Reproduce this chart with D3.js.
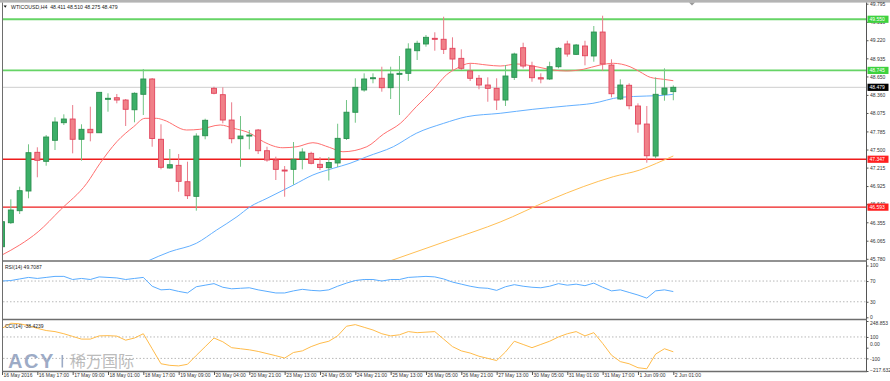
<!DOCTYPE html>
<html>
<head>
<meta charset="utf-8">
<script src="https://cdnjs.cloudflare.com/ajax/libs/d3/7.8.5/d3.min.js"></script>
<style>
  body { margin: 0; background: #fff; }
  text { font-family: "Liberation Sans", Arial, sans-serif; }
</style>
</head>
<body>
<div id="chart"></div>
<script>
// WTICOUSD H4 - velas, medias, RSI(14) y CCI(14)

var timeLabels = ["16 May 2016", "16 May 17:00", "17 May 09:00", "18 May 01:00", "18 May 17:00",
  "19 May 09:00", "20 May 04:00", "20 May 21:00", "23 May 13:00", "24 May 05:00", "24 May 21:00",
  "25 May 13:00", "26 May 05:00", "26 May 21:00", "27 May 13:00", "30 May 05:00", "31 May 01:00",
  "31 May 17:00", "1 Jun 09:00", "2 Jun 01:00"];

var opens = [45.970, 46.348, 46.537, 46.847, 47.456, 47.314, 47.645, 47.922, 47.980, 47.661,
  47.818, 47.764, 48.290, 48.315, 48.279, 48.126, 48.369, 48.610, 47.661, 47.209,
  47.251, 46.993, 46.763, 47.717, 48.463, 48.363, 47.964, 47.670, 47.712, 47.807,
  47.481, 47.335, 47.177, 47.188, 47.346, 47.440, 47.267, 47.214, 47.288, 47.673,
  48.086, 48.437, 48.614, 48.621, 48.473, 48.684, 48.699, 49.055, 49.161, 49.250,
  49.235, 49.093, 48.935, 48.736, 48.621, 48.515, 48.463, 48.279, 48.636, 49.102,
  48.814, 48.630, 48.610, 48.803, 49.161, 48.998, 49.129, 48.972, 49.349, 48.830,
  48.295, 48.511, 48.185, 47.901, 47.398, 48.369, 48.411];
var highs = [46.390, 46.716, 46.915, 47.582, 47.535, 47.728, 48.007, 48.054, 48.200, 47.897,
  48.174, 48.405, 48.385, 48.374, 48.295, 48.400, 48.767, 48.625, 47.897, 47.508,
  47.429, 47.308, 47.755, 47.985, 48.488, 48.479, 48.243, 48.027, 47.807, 47.823,
  47.544, 47.387, 47.240, 47.618, 47.519, 47.465, 47.382, 47.382, 47.906, 48.279,
  48.621, 48.699, 48.699, 48.803, 48.803, 48.972, 49.172, 49.212, 49.302, 49.345,
  49.590, 49.266, 49.077, 48.857, 48.673, 48.636, 48.621, 48.830, 49.024, 49.181,
  48.882, 48.699, 48.882, 49.113, 49.212, 49.161, 49.212, 49.444, 49.606, 48.920,
  48.605, 48.542, 48.227, 48.185, 48.636, 48.778, 48.510];
var lows = [45.855, 46.328, 46.485, 46.732, 47.063, 47.245, 47.492, 47.886, 47.440, 47.324,
  47.629, 47.760, 48.095, 48.227, 47.870, 47.928, 48.043, 47.544, 47.188, 47.198,
  46.836, 46.721, 46.537, 47.661, 48.369, 47.912, 47.598, 47.229, 47.503, 47.429,
  47.308, 47.020, 46.757, 46.946, 47.188, 47.267, 47.177, 47.012, 47.225, 47.650,
  47.922, 48.410, 48.542, 48.410, 48.295, 48.043, 48.578, 48.909, 49.118, 49.055,
  49.003, 48.736, 48.751, 48.578, 48.448, 48.252, 48.122, 48.185, 48.594, 48.778,
  48.567, 48.542, 48.594, 48.778, 48.961, 48.987, 48.825, 48.882, 48.740, 48.322,
  48.279, 48.133, 47.764, 47.292, 47.362, 48.268, 48.275];
var closes = [46.364, 46.548, 46.852, 47.450, 47.330, 47.697, 47.933, 47.980, 47.661, 47.818,
  47.764, 48.400, 48.306, 48.279, 48.133, 48.385, 48.610, 47.673, 47.220, 47.261,
  46.999, 46.773, 47.712, 47.960, 48.385, 47.964, 47.670, 47.712, 47.728, 47.481,
  47.335, 47.188, 47.162, 47.346, 47.461, 47.283, 47.217, 47.295, 47.676, 48.087,
  48.479, 48.610, 48.630, 48.473, 48.688, 48.699, 49.082, 49.172, 49.266, 49.235,
  49.077, 48.924, 48.778, 48.621, 48.515, 48.463, 48.279, 48.657, 49.003, 48.814,
  48.630, 48.610, 48.803, 49.093, 49.003, 49.145, 48.976, 49.349, 48.846, 48.378,
  48.515, 48.189, 47.901, 47.402, 48.369, 48.468, 48.479];

// medias moviles: [barra, precio]
var maRed = [[0, 45.840], [2, 45.997], [4.1, 46.206], [6.6, 46.548], [9.6, 46.968], [11.1, 47.283],
  [13, 47.623], [14.9, 47.859], [16.2, 47.991], [17.5, 47.991], [18.3, 47.964], [20.9, 47.807],
  [22.4, 47.818], [24.7, 47.886], [26.2, 47.834], [28.1, 47.755], [29.6, 47.623], [31.8, 47.528],
  [33.4, 47.544], [35.2, 47.607], [37.1, 47.532], [38.6, 47.465], [41.3, 47.544], [43.2, 47.744],
  [45.1, 47.912], [46.9, 48.174], [48.8, 48.437], [50.3, 48.673], [51.5, 48.778], [53, 48.857],
  [54.9, 48.830], [56.4, 48.814], [58.3, 48.846], [60.1, 48.814], [62.4, 48.751], [63.9, 48.736],
  [65.8, 48.762], [67.7, 48.830], [69.2, 48.857], [71.1, 48.803], [72.2, 48.725], [73.4, 48.636],
  [74.9, 48.605], [76, 48.583]];
var maBlue = [[16.5, 45.745], [19, 45.891], [22, 46.024], [24.3, 46.233], [26.6, 46.442],
  [28.1, 46.600], [30, 46.732], [33, 46.941], [35.2, 47.099], [37.5, 47.204], [39.4, 47.283],
  [41.3, 47.387], [44.3, 47.544], [46.9, 47.755], [50, 47.912], [52.6, 48.016], [56.4, 48.070],
  [60.1, 48.133], [63.9, 48.185], [66.9, 48.227], [70, 48.322], [73, 48.342], [74.9, 48.353],
  [76, 48.369]];
var maOrange = [[43.9, 45.745], [50.7, 46.076], [56.4, 46.359], [62, 46.705], [65.8, 46.915],
  [69.2, 47.072], [72.2, 47.177], [74.1, 47.283], [76, 47.398]];

var rsiValues = [70, 71, 74, 77, 75, 77, 79, 79, 73, 75,
  73, 78, 77, 76, 73, 75, 77, 60, 53, 54,
  50, 47, 59, 62, 65, 58, 55, 56, 57, 53,
  50, 47, 47, 51, 54, 52, 51, 53, 60, 66,
  71, 73, 73, 70, 73, 73, 77, 78, 79, 78,
  74, 68, 64, 60, 57, 56, 52, 59, 63, 60,
  58, 57, 60, 65, 62, 64, 61, 66, 58, 51,
  53, 48, 43, 37, 51, 53, 49.7087];
var cciValues = [180, 228, 223, 205, 180, 160, 150, 130, 105, 80,
  80, 110, 112, 108, 70, 90, 130, -10, -150, -165,
  -170, -155, -72, 9, 90, 55, 0, -10, -20, -35,
  -55, -75, -97, -45, -30, 10, 40, 60, 110, 200,
  215, 190, 165, 130, 110, 120, 150, 140, 145, 150,
  80, 10, -30, -50, -80, -100, -120, -40, 60, 30,
  0, 30, 60, 100, 130, 150, 110, 140, 40, -70,
  -130, -150, -187, -197, -60, -10, -38.4239];

var priceTicks = [49.795, 49.510, 49.220, 48.935, 48.650, 48.360, 48.075, 47.785, 47.500,
  47.215, 46.925, 46.640, 46.355, 46.065, 45.780];
var rsiTicks = [100, 70, 30, 0];
var rsiLevels = [70, 30];
var cciTicks = [248.853, 100, 0, -100, -217.632];
var cciLevels = [100, -100];
var greenLevels = [49.550, 48.745];
var redLevels = [47.347, 46.593];
var lastPrice = 48.479;
var header = "WTICOUSD,H4  48.411 48.510 48.275 48.479";

var width = 890;
var height = 381;
var axisX = 866;
var fs = 5.0;

var svg = d3.select('#chart')
  .append('svg')
  .attr('width', width)
  .attr('height', height);

//Escalas
var x = d3.scaleLinear().domain([0, 76]).range([2, 673.3]);
var y = d3.scaleLinear().domain([45.780, 49.795]).range([258.8, 3.7]);
var yRsi = d3.scaleLinear().domain([0, 100]).range([317.3, 265.5]);
var yCci = d3.scaleLinear().domain([-217.632, 248.853]).range([371, 321]);

//Clips de cada panel
var defs = svg.append('defs');
[['clipMain', 3, 260], ['clipRsi', 262, 318.5], ['clipCci', 320.5, 371]].forEach(function(c) {
  defs.append('clipPath').attr('id', c[0])
    .append('rect')
    .attr('x', 3).attr('y', c[1])
    .attr('width', axisX - 3).attr('height', c[2] - c[1]);
});

var main = svg.append('g').attr('clip-path', 'url(#clipMain)');

//Niveles horizontales
main.append('line')
  .attr('x1', 3).attr('x2', axisX)
  .attr('y1', y(lastPrice)).attr('y2', y(lastPrice))
  .attr('stroke', '#cfcfcf').attr('stroke-width', 1);

main.selectAll('line.green')
  .data(greenLevels)
  .enter()
  .append('line')
  .attr('x1', 3).attr('x2', axisX)
  .attr('y1', d => y(d)).attr('y2', d => y(d))
  .attr('stroke', '#66d466').attr('stroke-width', 1.8);

main.selectAll('line.red')
  .data(redLevels)
  .enter()
  .append('line')
  .attr('x1', 3).attr('x2', axisX)
  .attr('y1', d => y(d)).attr('y2', d => y(d))
  .attr('stroke', '#ee1c1c').attr('stroke-width', 1.4);

//Medias moviles
var maLine = d3.line()
  .x(d => x(d[0]))
  .y(d => y(d[1]))
  .curve(d3.curveMonotoneX);

[[maRed, '#ff6f6f'], [maBlue, '#64b0ff'], [maOrange, '#ffbf55']].forEach(function(m) {
  main.append('path')
    .attr('d', maLine(m[0]))
    .attr('fill', 'none')
    .attr('stroke', m[1])
    .attr('stroke-width', 1);
});

//Velas
var bars = d3.range(opens.length);
var up = i => closes[i] >= opens[i];

main.selectAll('line.wick')
  .data(bars)
  .enter()
  .append('line')
  .attr('x1', i => x(i)).attr('x2', i => x(i))
  .attr('y1', i => y(highs[i])).attr('y2', i => y(lows[i]))
  .attr('stroke', i => up(i) ? '#72c485' : '#ea7b8a')
  .attr('stroke-width', 1);

main.selectAll('rect.body')
  .data(bars)
  .enter()
  .append('rect')
  .attr('x', i => x(i) - 2.5)
  .attr('y', i => y(Math.max(opens[i], closes[i])))
  .attr('width', 5)
  .attr('height', i => Math.max(1, Math.abs(y(opens[i]) - y(closes[i]))))
  .attr('fill', i => up(i) ? '#3caf68' : '#f08088')
  .attr('stroke', i => up(i) ? '#2b8f4f' : '#e2445c')
  .attr('stroke-width', 0.9);

//RSI
var rsi = svg.append('g').attr('clip-path', 'url(#clipRsi)');
rsi.selectAll('line.lvl')
  .data(rsiLevels)
  .enter()
  .append('line')
  .attr('x1', 3).attr('x2', axisX)
  .attr('y1', d => yRsi(d)).attr('y2', d => yRsi(d))
  .attr('stroke', '#b8b8b8').attr('stroke-dasharray', '1.5,2');
rsi.append('path')
  .attr('d', d3.line().x((d, i) => x(i)).y(d => yRsi(d))(rsiValues))
  .attr('fill', 'none').attr('stroke', '#5aacff').attr('stroke-width', 1);

//CCI
var cci = svg.append('g').attr('clip-path', 'url(#clipCci)');
cci.selectAll('line.lvl')
  .data(cciLevels)
  .enter()
  .append('line')
  .attr('x1', 3).attr('x2', axisX)
  .attr('y1', d => yCci(d)).attr('y2', d => yCci(d))
  .attr('stroke', '#b8b8b8').attr('stroke-dasharray', '1.5,2');
cci.append('path')
  .attr('d', d3.line().x((d, i) => x(i)).y(d => yCci(d))(cciValues))
  .attr('fill', 'none').attr('stroke', '#ffbb4a').attr('stroke-width', 1);

//Marca de agua
var logo = svg.append('g').attr('opacity', 0.75);
logo.append('text')
  .attr('x', 8).attr('y', 367.5)
  .style('font-size', '20px').style('font-weight', 'bold')
  .style('letter-spacing', '1.5px')
  .attr('fill', '#7d90b4')
  .text('ACY');
logo.append('rect')
  .attr('x', 61.5).attr('y', 355).attr('width', 1.6).attr('height', 12.5)
  .attr('fill', '#7d90b4');
logo.append('text')
  .attr('x', 70).attr('y', 366.5)
  .style('font-family', '"Noto Sans CJK SC", sans-serif')
  .style('font-size', '16px')
  .attr('fill', '#a6a6a6')
  .text('稀万国际');

//Marco
svg.append('rect').attr('x', 0).attr('y', 0).attr('width', width).attr('height', 2.6).attr('fill', '#b4b4b4');
svg.append('path').attr('d', 'M689,2.6 L695,2.6 L692,5.5 Z').attr('fill', '#999');
svg.append('line').attr('x1', 2.5).attr('x2', 2.5).attr('y1', 2.6).attr('y2', 372)
  .attr('stroke', '#6e6e6e').attr('stroke-width', 1);
svg.append('line').attr('x1', axisX + 0.5).attr('x2', axisX + 0.5).attr('y1', 2.6).attr('y2', 372)
  .attr('stroke', '#555').attr('stroke-width', 1);
[261, 319.5, 371.5].forEach(function(yy) {
  svg.append('line').attr('x1', 2).attr('x2', axisX + 1).attr('y1', yy).attr('y2', yy)
    .attr('stroke', '#6e6e6e').attr('stroke-width', 1.6);
});

//Eje de precios
var yaxis = d3.axisRight(y)
  .tickValues(priceTicks)
  .tickSize(2)
  .tickPadding(1.5)
  .tickFormat(d3.format('.3f'));
var gy = svg.append('g')
  .attr('transform', 'translate(' + (axisX + 0.5) + ',0)')
  .call(yaxis);
gy.select('.domain').remove();
gy.selectAll('line').attr('stroke', '#555');
gy.selectAll('text').style('font-size', fs + 'px').attr('fill', '#333').attr('dy', '0.35em');

function priceBox(v, fill) {
  svg.append('rect')
    .attr('x', axisX + 1.5).attr('y', y(v) - 3.6)
    .attr('width', 21).attr('height', 7.2)
    .attr('fill', fill);
  svg.append('text')
    .attr('x', axisX + 3.5).attr('y', y(v))
    .attr('dy', '0.35em')
    .style('font-size', fs + 'px')
    .attr('fill', '#fff')
    .text(d3.format('.3f')(v));
}
greenLevels.forEach(v => priceBox(v, '#3ed23e'));
redLevels.forEach(v => priceBox(v, '#ff1f1f'));
priceBox(lastPrice, '#000');

//Eje RSI
var gr = svg.append('g')
  .attr('transform', 'translate(' + (axisX + 0.5) + ',0)')
  .call(d3.axisRight(yRsi).tickValues(rsiTicks).tickSize(2).tickPadding(1.5));
gr.select('.domain').remove();
gr.selectAll('line').attr('stroke', '#555');
gr.selectAll('text').style('font-size', fs + 'px').attr('fill', '#333')
  .attr('dy', d => d == 100 ? '0.1em' : (d == 0 ? '0.2em' : '0.35em'));

//Eje CCI
var gc = svg.append('g')
  .attr('transform', 'translate(' + (axisX + 0.5) + ',0)')
  .call(d3.axisRight(yCci).tickValues(cciTicks).tickSize(2).tickPadding(1.5)
    .tickFormat(d => d == 0 ? '0.00' : (Number.isInteger(d) ? d : d3.format('.3f')(d))));
gc.select('.domain').remove();
gc.selectAll('line').attr('stroke', '#555');
gc.selectAll('text').style('font-size', fs + 'px').attr('fill', '#333')
  .attr('dy', (d, i) => i == 0 ? '0.7em' : (d == 0 ? '-0.4em' : (i == 4 ? '0.1em' : '0.35em')));

//Eje de tiempo
var xaxis = d3.axisBottom(x)
  .tickValues(d3.range(0, 77, 4))
  .tickSize(3)
  .tickFormat((d, i) => timeLabels[i]);
var gx = svg.append('g')
  .attr('transform', 'translate(0,372)')
  .call(xaxis);
gx.select('.domain').remove();
gx.selectAll('line').attr('stroke', '#555');
gx.selectAll('text')
  .style('font-size', fs + 'px')
  .attr('fill', '#333')
  .style('text-anchor', 'start')
  .attr('x', 1)
  .attr('y', 1.5)
  .attr('dy', '0.71em');

//Titulos
svg.append('path').attr('d', 'M3.6,5.6 L6.8,5.6 L5.2,7.8 Z').attr('fill', '#111');
svg.append('text')
  .attr('x', 11).attr('y', 9)
  .style('font-size', '5.2px')
  .attr('fill', '#222')
  .attr('xml:space', 'preserve')
  .text(header);
svg.append('text')
  .attr('x', 5).attr('y', 268.5)
  .style('font-size', fs + 'px')
  .attr('fill', '#222')
  .text('RSI(14) 49.7087');
svg.append('text')
  .attr('x', 5).attr('y', 327.5)
  .style('font-size', fs + 'px')
  .attr('fill', '#222')
  .text('CCI(14) -38.4239');
</script>
</body>
</html>
